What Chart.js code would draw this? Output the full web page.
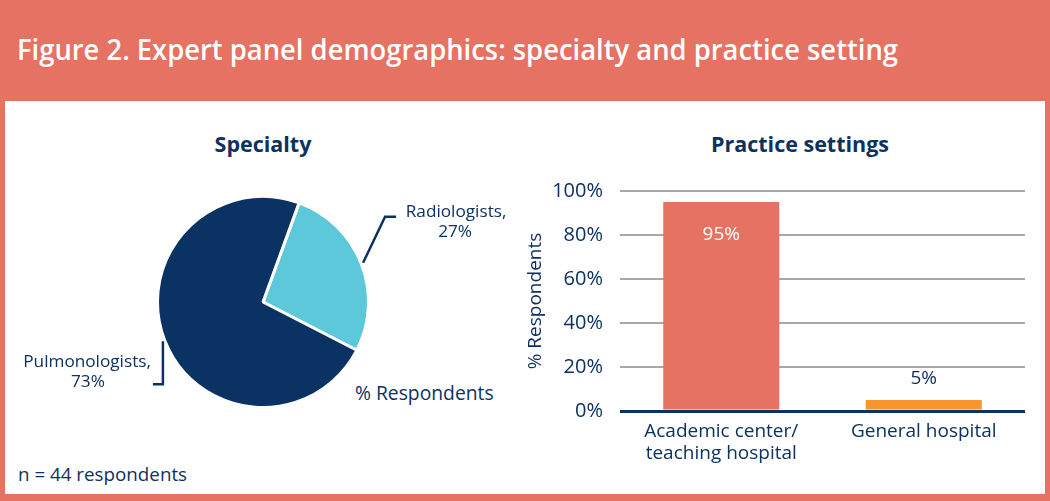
<!DOCTYPE html>
<html><head><meta charset="utf-8">
<script src="https://cdn.jsdelivr.net/npm/chart.js@4/dist/chart.umd.min.js"></script>
<style>
html,body{margin:0;padding:0;}
body{width:1050px;height:501px;background:#E57262;position:relative;overflow:hidden;font-family:"Open Sans",sans-serif;}
#hdr{position:absolute;left:17px;top:29px;color:#fff;font-family:"Open Sans",sans-serif;font-weight:600;font-size:29px;white-space:nowrap;transform-origin:0 0;}
#panel{position:absolute;left:5px;top:101px;width:1040px;height:393px;background:#fff;}
.t{position:absolute;color:#0D3160;white-space:nowrap;}
.ttl{font-weight:bold;font-size:21.5px;transform:translateX(-50%);}
#pieC{position:absolute;left:4px;top:101px;}
#barC{position:absolute;left:520px;top:101px;}
</style></head><body>
<div id="hdr">Figure 2. Expert panel demographics: specialty and practice setting</div>
<div id="panel"></div>
<div class="t ttl" style="left:263px;top:129px;">Specialty</div>
<div class="t ttl" style="left:800px;top:129px;">Practice settings</div>
<div class="t" style="left:355px;top:379px;font-size:19.3px;">% Respondents</div>
<div class="t" style="left:18px;top:461px;font-size:18.8px;">n = 44 respondents</div>
<canvas id="pieC" width="516" height="392"></canvas>
<canvas id="barC" width="526" height="392"></canvas>
<script>
(function(){ const h = document.getElementById('hdr'); const w = h.getBoundingClientRect().width; h.style.transform = 'scaleX(' + (881 / w) + ')'; })();
const NAVY = '#0D3160';
// Pie data
const specialtyLabels = ['Radiologists', 'Pulmonologists'];
const specialtyValues = [27, 73];
const specialtyColors = ['#5CC8DA', '#0A3262'];
// Bar data
const settingLabels = [['Academic center/', 'teaching hospital'], ['General hospital']];
const settingValues = [95, 5];
const settingColors = ['#E57262', '#F7952F'];
const yTicks = [0, 20, 40, 60, 80, 100];

const FONT = '"Open Sans", sans-serif';

const pieLabelPlugin = {
  id: 'pieLabels',
  afterDraw(chart) {
    const ctx = chart.ctx;
    const arcs = chart.getDatasetMeta(0).data;
    ctx.save();
    ctx.strokeStyle = NAVY; ctx.lineWidth = 2.5;
    ctx.fillStyle = NAVY; ctx.font = '17.2px ' + FONT;
    ctx.textBaseline = 'middle';
    // Radiologists
    let a = arcs[0];
    let mid = (a.startAngle + a.endAngle) / 2;
    let sx = a.x + Math.cos(mid) * (a.outerRadius + 2);
    let sy = a.y + Math.sin(mid) * (a.outerRadius + 2);
    ctx.beginPath(); ctx.moveTo(sx, sy); ctx.lineTo(sx + 22, sy - 46); ctx.lineTo(sx + 33, sy - 46); ctx.stroke();
    ctx.textAlign = 'center';
    ctx.fillText(specialtyLabels[0] + ',', sx + 93, sy - 51);
    ctx.fillText(specialtyValues[0] + '%', sx + 92, sy - 31);
    // Pulmonologists
    a = arcs[1];
    mid = (a.startAngle + a.endAngle) / 2;
    sx = a.x + Math.cos(mid) * (a.outerRadius + 2);
    sy = a.y + Math.sin(mid) * (a.outerRadius + 2);
    ctx.beginPath(); ctx.moveTo(sx, sy); ctx.lineTo(sx, sy + 43); ctx.lineTo(sx - 10, sy + 43); ctx.stroke();
    ctx.textAlign = 'right';
    ctx.fillText(specialtyLabels[1] + ',', sx - 12, sy + 21);
    ctx.textAlign = 'center';
    ctx.fillText(specialtyValues[1] + '%', sx - 75, sy + 41);
    ctx.restore();
  }
};

new Chart(document.getElementById('pieC'), {
  type: 'pie',
  data: { labels: specialtyLabels, datasets: [{ data: specialtyValues, backgroundColor: specialtyColors, borderColor: '#fff', borderWidth: 3 }] },
  options: {
    responsive: false, animation: false, rotation: 20,
    layout: { padding: { left: 152, right: 150, top: 94, bottom: 84 } },
    plugins: { legend: { display: false }, tooltip: { enabled: false } }
  },
  plugins: [pieLabelPlugin]
});

const barLabelPlugin = {
  id: 'barLabels',
  afterDatasetsDraw(chart) {
    const ctx = chart.ctx;
    const bars = chart.getDatasetMeta(0).data;
    ctx.save();
    ctx.font = '19px ' + FONT; ctx.textAlign = 'center'; ctx.textBaseline = 'middle';
    bars.forEach((b, i) => {
      const v = settingValues[i];
      if (v > 50) { ctx.fillStyle = '#fff'; ctx.fillText(v + '%', b.x, b.y + 33); }
      else { ctx.fillStyle = NAVY; ctx.fillText(v + '%', b.x, b.y - 21); }
    });
    ctx.restore();
  }
};

new Chart(document.getElementById('barC'), {
  type: 'bar',
  data: { labels: settingLabels, datasets: [{ data: settingValues, backgroundColor: settingColors, categoryPercentage: 1, barPercentage: 0.573 }] },
  options: {
    responsive: false, animation: false,
    layout: { padding: { top: 90, right: 21, left: 0, bottom: 0 } },
    plugins: { legend: { display: false }, tooltip: { enabled: false } },
    scales: {
      x: {
        grid: { display: false }, border: { display: false },
        ticks: { color: NAVY, font: { family: FONT, size: 19, lineHeight: 1.15 }, padding: 2, maxRotation: 0 },
        afterFit(s) { s.height = 82; }
      },
      y: {
        min: 0, max: 100,
        afterBuildTicks(s) { s.ticks = yTicks.map(v => ({ value: v })); },
        border: { display: false },
        grid: { drawTicks: false, color: c => c.tick && c.tick.value === 0 ? NAVY : '#A8A8A8', lineWidth: c => c.tick && c.tick.value === 0 ? 3 : 2 },
        ticks: { color: NAVY, font: { family: FONT, size: 20 }, padding: 17, callback: v => v + '%' },
        title: { display: true, text: '% Respondents', color: NAVY, font: { family: FONT, size: 19 }, padding: { top: 4, bottom: 0 } },
        afterFit(s) { s.width = 100; }
      }
    }
  },
  plugins: [barLabelPlugin]
});
</script>
</body></html>
